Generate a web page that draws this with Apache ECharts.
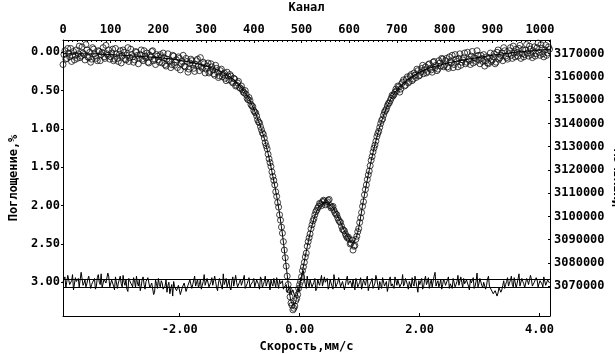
<!DOCTYPE html>
<html><head><meta charset="utf-8">
<script src="https://cdn.jsdelivr.net/npm/echarts@6/dist/echarts.min.js"></script>
<style>html,body{margin:0;padding:0;background:#fff}#c{width:615px;height:354px}</style>
</head><body><div id="c"></div>
<script>
// ---- data ----
// measured points: set A at channels 0,4,8,... ; set B at channels 2,6,10,...
const channelStep = 4;
const channelOffsetB = 2;
const absorptionA = [
0.16,-0.02,0.08,0.01,-0.05,0.04,0.10,-0.03,0.02,0.07,-0.07,0.03,-0.10,0.06,0.00,0.09,-0.04,0.05,0.11,-0.01,0.03,-0.06,0.08,0.02,-0.03,
0.06,-0.04,0.09,0.02,0.12,-0.02,0.05,0.00,0.10,-0.06,0.07,0.03,0.13,-0.01,0.04,0.08,-0.03,0.11,0.05,0.01,0.14,0.06,-0.02,0.09,0.03,
0.10,0.03,0.14,0.07,0.18,0.02,0.11,0.16,0.05,0.13,0.20,0.08,0.15,0.04,0.19,0.12,0.22,0.09,0.16,0.25,0.11,0.18,0.07,0.21,0.15,
0.22,0.14,0.25,0.19,0.28,0.17,0.26,0.31,0.22,0.29,0.34,0.26,0.36,0.31,0.40,0.35,0.43,0.38,0.47,0.49,0.53,0.55,0.62,0.63,0.70,
0.76,0.79,0.88,0.92,1.01,1.07,1.18,1.26,1.39,1.49,1.62,1.73,1.88,2.02,2.19,2.36,2.58,2.79,3.03,3.19,3.30,3.34,3.24,3.16,3.03,
2.93,2.80,2.67,2.53,2.42,2.30,2.20,2.12,2.06,2.01,1.98,1.95,1.94,1.97,1.93,2.00,2.02,2.06,2.11,2.16,2.21,2.27,2.32,2.37,2.42,
2.44,2.49,2.58,2.52,2.40,2.30,2.16,2.01,1.86,1.73,1.60,1.48,1.36,1.25,1.16,1.06,0.98,0.89,0.82,0.76,0.70,0.66,0.60,0.57,0.52,
0.50,0.45,0.48,0.39,0.44,0.35,0.40,0.31,0.37,0.27,0.33,0.24,0.30,0.21,0.28,0.19,0.25,0.15,0.23,0.13,0.20,0.24,0.11,0.18,0.09,
0.17,0.08,0.21,0.12,0.04,0.16,0.09,0.19,0.02,0.13,0.07,0.15,0.00,0.11,0.05,0.14,0.08,-0.02,0.10,0.04,0.12,0.18,0.06,0.15,0.01,
0.10,0.02,0.13,-0.03,0.07,0.01,-0.06,0.05,0.09,-0.02,0.04,-0.08,0.06,0.00,-0.05,0.08,-0.03,0.03,-0.10,0.05,-0.04,0.07,-0.07,0.02,-0.12,0.04,-0.05,0.06,-0.09,0.01,-0.04
];
const absorptionB = [
0.03,0.09,-0.05,0.06,0.12,-0.01,0.04,0.08,-0.08,0.05,0.01,0.10,-0.03,0.07,0.13,-0.06,0.02,0.08,-0.02,0.11,0.00,0.06,-0.09,0.04,0.09,
0.01,0.11,-0.05,0.08,0.03,0.14,-0.03,0.09,0.04,0.12,-0.04,0.06,0.10,0.00,0.15,0.03,0.09,-0.02,0.07,0.13,0.04,-0.01,0.11,0.16,0.05,
0.13,0.06,0.01,0.16,0.09,0.12,0.20,0.04,0.17,0.10,0.06,0.23,0.12,0.18,0.08,0.26,0.14,0.11,0.21,0.16,0.09,0.24,0.19,0.13,0.27,
0.18,0.27,0.15,0.23,0.30,0.21,0.33,0.24,0.32,0.27,0.37,0.31,0.29,0.38,0.34,0.44,0.40,0.46,0.44,0.52,0.50,0.60,0.59,0.68,0.71,
0.78,0.83,0.91,0.97,1.05,1.12,1.22,1.33,1.44,1.56,1.67,1.82,1.96,2.12,2.28,2.47,2.68,2.92,3.10,3.27,3.36,3.31,3.21,3.08,2.99,
2.85,2.74,2.62,2.47,2.37,2.25,2.17,2.08,2.03,1.97,2.00,1.93,1.99,1.95,1.92,2.03,2.01,2.09,2.12,2.19,2.22,2.31,2.33,2.40,2.41,
2.50,2.45,2.53,2.44,2.34,2.22,2.09,1.95,1.79,1.66,1.55,1.41,1.30,1.21,1.10,1.03,0.93,0.87,0.78,0.74,0.67,0.63,0.56,0.55,0.48,
0.44,0.52,0.41,0.36,0.43,0.32,0.38,0.29,0.35,0.30,0.22,0.31,0.26,0.17,0.23,0.27,0.16,0.21,0.26,0.12,0.17,0.22,0.14,0.08,0.19,
0.11,0.19,0.06,0.14,0.20,0.03,0.12,0.08,0.17,0.10,0.01,0.13,0.09,0.16,-0.01,0.07,0.12,0.04,0.15,0.08,0.03,0.11,0.14,0.07,0.12,
0.06,0.15,0.00,0.09,0.04,0.11,-0.02,0.07,0.02,-0.06,0.08,0.01,-0.04,0.05,-0.09,0.02,0.06,-0.03,0.01,-0.08,0.03,-0.02,0.05,-0.06,0.00,-0.10,0.02,-0.03,0.04,-0.07
];
const residualA = [
3.00,2.93,3.05,2.97,3.02,2.90,3.08,2.99,2.95,3.04,2.88,3.01,3.06,2.96,2.91,3.03,2.98,3.09,2.94,3.00,2.89,3.05,2.97,3.02,2.93,
3.04,2.99,3.10,2.95,3.01,2.92,3.06,3.00,2.96,3.12,2.98,3.03,2.94,3.07,3.01,2.97,3.05,2.93,3.09,3.00,2.96,3.04,2.99,3.13,3.02,
2.95,3.06,3.01,3.11,2.97,3.04,3.15,3.03,2.99,3.08,3.12,3.05,3.14,3.09,3.02,3.10,3.06,2.98,3.03,2.92,3.01,3.07,2.96,3.04,2.90,
3.02,2.97,3.08,2.94,3.03,2.99,3.11,2.95,3.05,2.89,3.01,3.06,2.97,3.10,2.93,3.04,3.00,3.08,2.96,3.02,2.91,3.05,2.98,3.07,3.01,
2.95,3.04,2.99,3.09,2.96,3.03,2.92,3.06,3.00,2.97,3.05,3.01,2.94,3.08,3.02,2.98,3.06,3.03,3.10,3.07,3.14,3.11,3.17,3.08,3.12,
2.98,2.85,3.03,2.92,3.06,2.99,3.04,2.95,3.08,3.01,2.97,3.05,2.93,3.02,3.09,2.96,3.03,2.90,3.06,3.00,2.95,3.07,2.98,3.04,2.92,
3.05,3.01,2.96,3.10,2.99,3.03,2.94,3.07,3.00,2.97,3.11,3.02,2.95,3.06,2.91,3.04,2.99,3.08,2.96,3.02,3.12,2.97,3.05,3.00,2.93,
3.04,2.98,3.07,2.90,3.02,2.96,3.09,3.01,2.94,3.05,2.99,3.13,3.03,2.95,3.06,2.92,3.00,3.08,2.97,3.04,2.87,3.01,3.06,2.96,3.03,
2.99,3.05,2.93,3.02,3.08,2.97,3.03,2.91,3.06,3.00,2.95,3.04,2.98,3.10,3.01,2.94,3.05,2.88,3.02,2.97,3.07,2.99,3.04,2.92,3.06,
3.12,3.16,3.09,3.14,3.05,3.10,2.98,3.03,2.94,3.01,2.92,3.06,2.96,3.02,2.89,3.04,2.99,3.07,2.95,3.03,2.91,3.05,3.00,2.94,3.06,2.98,3.02,2.93,3.04,2.97,3.01
];
const residualB = [
2.96,3.07,2.91,3.03,2.98,3.10,2.94,3.01,3.06,2.87,3.04,2.97,3.02,2.92,3.08,3.00,2.95,3.05,2.90,3.03,3.07,2.96,3.01,2.88,3.06,
2.97,3.05,2.93,3.08,2.99,3.02,2.91,3.04,3.09,2.95,3.01,3.06,2.98,2.92,3.05,3.11,2.96,3.03,2.99,2.94,3.07,3.01,3.16,2.97,3.08,
3.03,2.98,3.09,3.05,3.13,3.00,3.08,3.18,3.06,3.11,3.04,3.16,3.07,3.01,3.12,3.04,2.97,3.08,3.01,3.05,2.96,3.03,3.09,2.99,3.04,
2.95,3.06,3.00,3.04,2.92,3.07,3.01,2.97,3.09,3.03,2.95,3.02,3.07,2.98,3.05,2.91,3.06,3.00,3.04,2.96,3.08,3.02,2.94,3.03,2.99,
3.06,2.97,3.03,2.93,3.07,2.99,3.05,2.96,3.10,3.02,2.95,3.06,3.01,2.97,3.04,3.09,3.05,3.13,3.09,3.16,3.10,3.19,3.13,3.06,2.94,
2.88,2.96,3.08,3.01,2.97,3.06,3.00,3.11,2.96,3.04,2.91,3.07,3.00,2.95,3.05,3.01,3.09,2.97,3.03,2.94,3.06,2.99,3.10,2.97,3.03,
2.98,3.07,3.03,2.95,3.06,3.00,3.09,2.97,3.04,2.92,3.05,2.99,3.08,3.01,2.96,3.10,3.03,2.94,3.05,2.99,3.06,2.93,3.02,3.08,2.98,
2.97,3.06,3.01,3.05,2.95,3.03,2.99,3.07,3.02,2.92,3.06,2.98,3.04,3.09,2.97,3.03,2.94,3.01,3.06,2.92,3.05,2.98,3.02,3.09,2.96,
3.04,2.97,3.08,3.00,2.95,3.06,2.99,3.04,2.93,3.07,3.02,2.97,3.05,2.96,3.03,3.08,2.99,3.06,2.95,3.04,3.00,3.09,2.96,3.05,3.10,
3.15,3.11,3.18,3.07,3.13,3.04,3.08,2.99,3.05,2.97,3.03,2.94,3.07,3.00,3.05,2.95,3.02,3.08,2.98,3.04,2.96,3.07,3.01,2.97,3.04,2.99,3.06,2.95,3.03,2.99
];
const fitChannels = [0,50,100,150,200,250,300,330,350,370,380,390,400,410,420,430,440,450,460,470,475,480,485,490,495,500,510,520,530,540,550,560,570,580,590,600,605,610,615,620,630,640,650,660,670,680,690,700,720,750,800,850,900,950,1000,1021];
const fitValues   = [0.02,0.02,0.03,0.05,0.07,0.11,0.18,0.25,0.32,0.43,0.51,0.61,0.74,0.90,1.08,1.32,1.62,1.95,2.37,2.90,3.15,3.28,3.29,3.20,3.06,2.92,2.60,2.31,2.10,1.99,1.96,1.99,2.07,2.19,2.33,2.44,2.48,2.47,2.41,2.29,1.93,1.60,1.31,1.06,0.86,0.70,0.58,0.49,0.37,0.25,0.15,0.09,0.04,0.00,-0.03,-0.04];
const residualBand = [2.955, 3.06];
const velocityTicks = [-2, 0, 2, 4];
const absorptionTicks = [0, 0.5, 1, 1.5, 2, 2.5, 3];
const countTicks = [3070000,3080000,3090000,3100000,3110000,3120000,3130000,3140000,3150000,3160000,3170000];

// ---- build series data ----
const pts = (arr, off) => arr.map((v, i) => [off + i * channelStep, v]);
const scatterData = pts(absorptionA, 0).concat(pts(absorptionB, channelOffsetB));
const residualData = pts(residualA, 0).concat(pts(residualB, channelOffsetB)).sort((a, b) => a[0] - b[0]);
const fitData = fitChannels.map((c, i) => [c, fitValues[i]]);

const font = {fontFamily: 'DejaVu Sans Mono', fontWeight: 'bold', fontSize: 12, color: '#000'};
const axisLine = {show: true, onZero: false, lineStyle: {color: '#000', width: 1}};

const chart = echarts.init(document.getElementById('c'), null, {renderer: 'canvas'});
chart.setOption({
  animation: false,
  backgroundColor: '#fff',
  grid: {left: 63, right: 65, top: 40, bottom: 38, containLabel: false, outerBoundsMode: 'none'},
  xAxis: [
    {type: 'value', position: 'bottom', min: -3.947, max: 4.175,
     name: 'Скорость,мм/с', nameLocation: 'middle', nameGap: 25, nameTextStyle: font,
     axisLine: axisLine, splitLine: {show: false},
     axisTick: {show: true, inside: true, length: 3, customValues: velocityTicks, lineStyle: {color: '#000'}},
     axisLabel: Object.assign({customValues: velocityTicks, margin: 8, formatter: v => v.toFixed(2)}, font)},
    {type: 'value', position: 'top', min: 0, max: 1021, interval: 100,
     name: 'Канал', nameLocation: 'middle', nameGap: 26, nameTextStyle: font,
     axisLine: axisLine, splitLine: {show: false},
     axisTick: {show: true, inside: true, length: 3, lineStyle: {color: '#000'}},
     minorTick: {show: true, splitNumber: 10, length: 2, lineStyle: {color: '#000'}},
     axisLabel: Object.assign({margin: 4, showMaxLabel: false, formatter: v => String(v)}, font)}
  ],
  yAxis: [
    {type: 'value', position: 'left', inverse: true, min: -0.16, max: 3.44,
     name: 'Поглощение,%', nameLocation: 'middle', nameGap: 43, nameRotate: 90, nameTextStyle: font,
     axisLine: axisLine, splitLine: {show: false},
     axisTick: {show: true, inside: false, length: 2, customValues: absorptionTicks, lineStyle: {color: '#000'}},
     axisLabel: Object.assign({customValues: absorptionTicks, margin: 3, formatter: v => v.toFixed(2)}, font)},
    {type: 'value', position: 'right', min: 3057210, max: 3175880,
     name: 'Импульсы', nameLocation: 'middle', nameGap: 62, nameRotate: 90, nameMoveOverlap: false,
     nameTextStyle: font,
     axisLine: axisLine, splitLine: {show: false},
     axisTick: {show: true, inside: true, length: 2, customValues: countTicks, lineStyle: {color: '#000'}},
     axisLabel: Object.assign({customValues: countTicks, margin: 4, formatter: v => String(v)}, font)}
  ],
  series: [
    {type: 'line', name: 'residual', xAxisIndex: 1, yAxisIndex: 0, data: residualData,
     symbol: 'none', lineStyle: {color: '#000', width: 1}, z: 2,
     markLine: {silent: true, symbol: 'none', label: {show: false},
       lineStyle: {color: '#000', width: 1, type: 'solid'},
       data: residualBand.map(v => ({yAxis: v}))}},
    {type: 'scatter', name: 'data', xAxisIndex: 1, yAxisIndex: 0, data: scatterData,
     symbol: 'circle', symbolSize: 6,
     itemStyle: {color: 'rgba(0,0,0,0)', borderColor: '#111', borderWidth: 1}, z: 3},
    {type: 'line', name: 'fit', xAxisIndex: 1, yAxisIndex: 0, data: fitData,
     symbol: 'none', smooth: 0.3, lineStyle: {color: '#000', width: 1}, z: 4}
  ]
});
</script></body></html>
